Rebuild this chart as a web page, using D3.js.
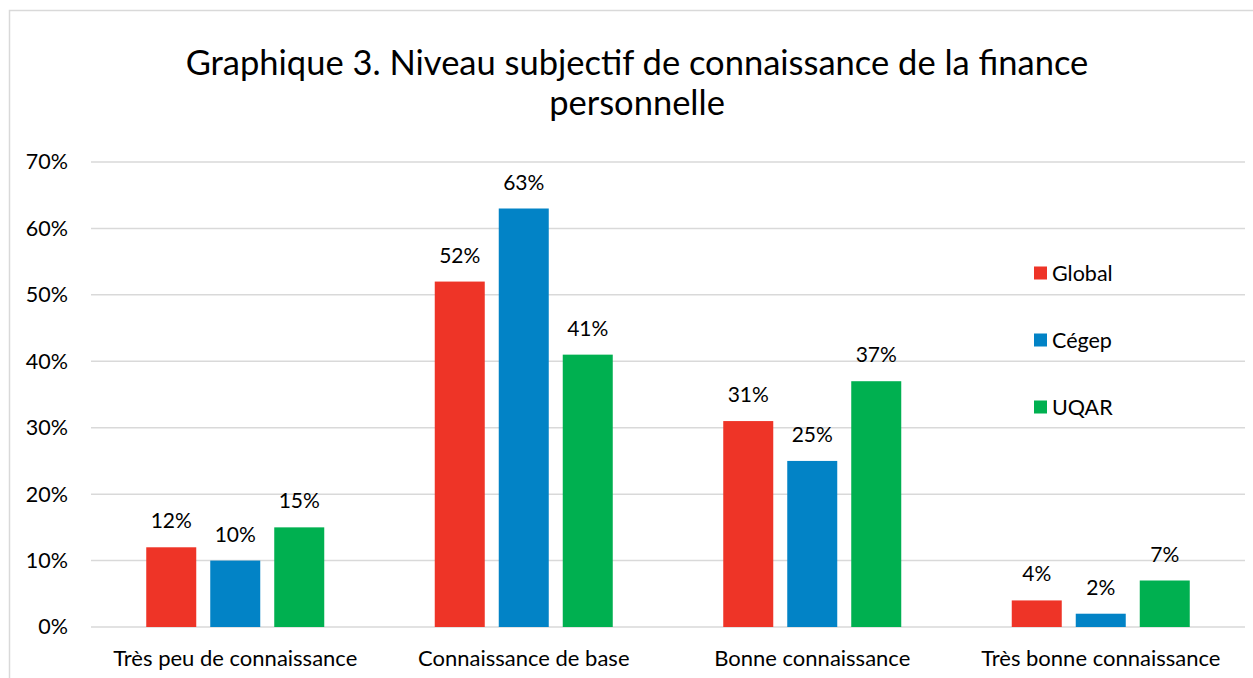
<!DOCTYPE html>
<html><head><meta charset="utf-8">
<script src="https://cdn.jsdelivr.net/npm/d3@7"></script>
<style>body{margin:0;background:#fff;} svg{display:block;font-family:Lato, "Open Sans", sans-serif;}</style>
</head><body>
<svg id="c" width="1253" height="678"></svg>
<script>
const categories = ["Très peu de connaissance","Connaissance de base","Bonne connaissance","Très bonne connaissance"];
const seriesNames = ["Global","Cégep","UQAR"];
const globalValues = [12,52,31,4];
const cegepValues = [10,63,25,2];
const uqarValues = [15,41,37,7];
const yTicks = [0,10,20,30,40,50,60,70];
const colors = ["#ee3427","#0283c6","#00b050"];
const seriesValues = [globalValues, cegepValues, uqarValues];

const svg = d3.select("#c");
svg.append("rect").attr("x",9.5).attr("y",10.5).attr("width",1300).attr("height",700)
  .attr("fill","#fff").attr("stroke","#d9d9d9").attr("stroke-width",1.5);

const x0 = d3.scaleBand().domain(categories).range([91,1245]);
const x1 = d3.scaleBand().domain(seriesNames).range([0,178]).paddingInner(0.2187).paddingOuter(0);
const y = d3.scaleLinear().domain([0,70]).range([627,162]);

const grid = svg.append("g");
grid.selectAll("line").data(yTicks).join("line")
  .attr("x1",91).attr("x2",1245).attr("y1",d=>y(d)).attr("y2",d=>y(d))
  .attr("stroke","#d9d9d9").attr("stroke-width",1.5);

const yAxis = d3.axisLeft(y).tickValues(yTicks).tickFormat(d=>d+"%").tickSize(0).tickPadding(0);
svg.append("g").attr("transform","translate(68,0)").call(yAxis)
  .call(g=>g.select(".domain").remove())
  .selectAll("text").attr("font-size",21.5).attr("fill","#000").attr("font-family","Lato, 'Open Sans', sans-serif");

const xAxis = d3.axisBottom(x0).tickSize(0).tickPadding(0);
svg.append("g").attr("transform","translate(0,650)").call(xAxis)
  .call(g=>g.select(".domain").remove())
  .selectAll("text").attr("font-size",22).attr("fill","#000").attr("font-family","Lato, 'Open Sans', sans-serif");

const groups = svg.append("g").selectAll("g").data(categories).join("g")
  .attr("transform",d=>`translate(${x0(d)+x0.bandwidth()/2-89},0)`);

groups.each(function(cat,ci){
  const g = d3.select(this);
  seriesNames.forEach((s,si)=>{
    const v = seriesValues[si][ci];
    g.append("rect").attr("x",x1(s)).attr("width",x1.bandwidth())
      .attr("y",y(v)).attr("height",y(0)-y(v)).attr("fill",colors[si]);
    g.append("text").attr("x",x1(s)+x1.bandwidth()/2).attr("y",y(v)-19)
      .attr("text-anchor","middle").attr("font-size",21).attr("fill","#000").text(v+"%");
  });
});

const legend = svg.append("g");
seriesNames.forEach((s,i)=>{
  const ly = 273 + i*67;
  legend.append("rect").attr("x",1034).attr("y",ly-6.5).attr("width",13).attr("height",13).attr("fill",colors[i]);
  legend.append("text").attr("x",1052).attr("y",ly+8).attr("font-size",21.5).attr("fill","#000").text(s);
});

svg.append("text").attr("x",637).attr("y",75).attr("text-anchor","middle").attr("font-size",34.5)
  .attr("fill","#000").text("Graphique 3. Niveau subjectif de connaissance de la finance");
svg.append("text").attr("x",637).attr("y",115).attr("text-anchor","middle").attr("font-size",34.5)
  .attr("fill","#000").text("personnelle");
</script>
</body></html>
